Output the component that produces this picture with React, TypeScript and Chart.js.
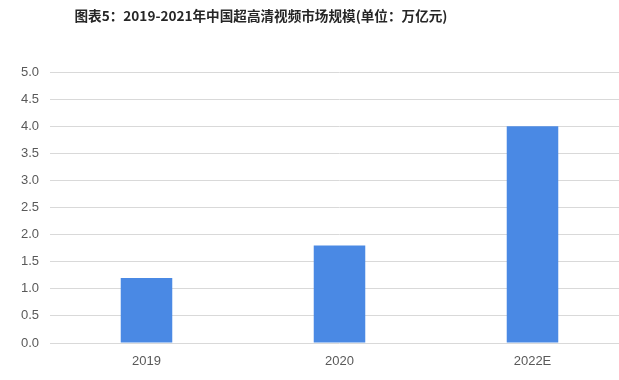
import React, { useEffect, useRef } from "react";
import { Chart, registerables } from "chart.js";

Chart.register(...registerables);

const categories = ["2019", "2020", "2022E"];
const values = [1.2, 1.8, 4.0];
const titleText = "图表5：2019-2021年中国超高清视频市场规模(单位：万亿元)";

export default function App() {
  const ref = useRef<HTMLCanvasElement | null>(null);

  useEffect(() => {
    document.body.style.margin = "0";
    document.body.style.overflow = "hidden";
    const chart = new Chart(ref.current as HTMLCanvasElement, {
      type: "bar",
      data: {
        labels: categories,
        datasets: [
          {
            data: values,
            backgroundColor: "#4A89E4",
            barPercentage: 0.267,
            categoryPercentage: 1,
          },
        ],
      },
      options: {
        animation: false,
        responsive: false,
        layout: { padding: { top: 72, right: 11, left: 0, bottom: 0 } },
        plugins: { legend: { display: false }, tooltip: { enabled: false }, title: { display: false } },
        scales: {
          x: {
            grid: { display: false },
            border: { display: false },
            ticks: {
              color: "#595959",
              font: { family: "Liberation Sans", size: 13 },
              padding: 3,
            },
            afterFit: (s: any) => {
              s.height = 37;
            },
          },
          y: {
            min: 0,
            max: 5,
            grid: { color: "#d9d9d9", drawTicks: false, lineWidth: 1 },
            border: { display: false },
            ticks: {
              stepSize: 0.5,
              color: "#595959",
              font: { family: "Liberation Sans", size: 13 },
              padding: 11,
              callback: (v: any) => Number(v).toFixed(1),
            },
            afterFit: (s: any) => {
              s.width = 50;
            },
          },
        },
      },
    });
    return () => chart.destroy();
  }, []);

  return (
    <div style={{ position: "fixed", left: 0, top: 0, width: 619, height: 380, overflow: "hidden", background: "#fff" }}>
      <canvas ref={ref} width={640} height={380} style={{ position: "absolute", left: 0, top: 0, width: 640, height: 380 }} />
      <div
        style={{
          position: "absolute",
          left: 0,
          width: 522,
          top: 5,
          textAlign: "center",
          fontFamily: "'Noto Sans CJK SC', sans-serif",
          fontWeight: "bold",
          fontSize: 13.6,
          color: "#262626",
          lineHeight: "20px",
          whiteSpace: "nowrap",
        }}
      >
        {titleText}
      </div>
    </div>
  );
}
